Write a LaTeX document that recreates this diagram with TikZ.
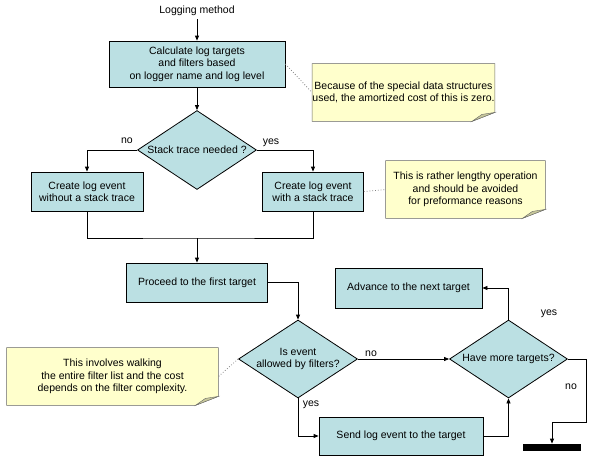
\documentclass[tikz,border=0pt]{standalone}
\usepackage{fontspec}
\setmainfont{Liberation Sans}
\usepackage{xcolor}
\usetikzlibrary{arrows.meta,positioning,shapes.geometric,backgrounds}
\definecolor{boxfill}{HTML}{BBE0E3}
\definecolor{notefill}{HTML}{FFFFCC}
\definecolor{foldfill}{HTML}{C8C89B}
\tikzset{>={Triangle[length=5pt,width=4pt]}}

\begin{document}
\begin{tikzpicture}[x=1pt, y=-1pt, line width=0.8pt,
  every node/.style={font=\fontsize{10.5}{12.3}\selectfont, align=center, inner sep=0pt},
  stepbox/.style={draw, fill=boxfill, rectangle},
  choice/.style={draw, fill=boxfill, diamond, aspect=1.5},
  memo/.style={rectangle},
  hint/.style={draw=gray, dotted}]
  \useasboundingbox (0,0) rectangle (600,464);

  % Start
  \node (lm) at (197,11) {Logging method};
  \node[stepbox, minimum width=176pt, minimum height=46pt] (calc) at (197,64)
    {Calculate log targets\\and filters based\\on logger name and log level};

  % Stack trace
  \node[choice, minimum width=119pt, minimum height=79pt] (stack) at (197,150) {Stack trace needed ?};
  \node[stepbox, minimum width=112pt, minimum height=39pt] (nostack) at (87,191.5)
    {Create log event\\without a stack trace};
  \node[stepbox, minimum width=101pt, minimum height=39pt] (withstack) at (313,191.5)
    {Create log event\\with a stack trace};
  \coordinate (m) at (197,238);

  % Targets loop
  \node[stepbox, minimum width=141pt, minimum height=39pt] (first) at (197,282.5) {Proceed to the first target};
  \node[choice, minimum width=119pt, minimum height=78pt] (allowed) at (298,359) {Is event\\allowed by filters?};
  \node[stepbox, minimum width=147pt, minimum height=40pt] (advance) at (408.5,288) {Advance to the next target};
  \node[choice, minimum width=118pt, minimum height=78pt] (more) at (508.5,359) {Have more targets?};
  \node[stepbox, minimum width=164pt, minimum height=38pt] (send) at (401,436) {Send log event to the target};
  \node[fill=black, minimum width=58pt, minimum height=7pt] (done) at (552,447.5) {};
  \coordinate (r) at (586,422);

  % Notes
  \node[memo, minimum width=181pt, minimum height=57pt] (note1) at (403.5,92.5)
    {Because of the special data structures\\used, the amortized cost of this is zero.};
  \node[memo, minimum width=159pt, minimum height=57pt] (note2) at (465.5,189.5)
    {This is rather lengthy operation\\and should be avoided\\for preformance reasons};
  \node[memo, minimum width=211pt, minimum height=57pt] (note3) at (112.5,376.5)
    {This involves walking\\the entire filter list and the cost\\depends on the filter complexity.};
  \begin{scope}[on background layer]
    \foreach \n in {note1,note2,note3} {
      \filldraw[fill=notefill, draw=gray!80!black]
        (\n.north west) -- (\n.north east) -- ([yshift=9pt]\n.south east)
        -- ([xshift=-23pt]\n.south east) -- (\n.south west) -- cycle;
      \filldraw[fill=foldfill, draw=gray!80!black]
        ([yshift=9pt]\n.south east) -- ([xshift=-23pt]\n.south east)
        -- ([xshift=-13pt,yshift=7pt]\n.south east) -- cycle;
    }
  \end{scope}

  % Edges
  \draw[->, shorten <=3pt] (lm) -- (calc);
  \draw[->] (calc) -- (stack);
  \draw[->] (stack.west) -| (nostack.north);
  \draw[->] (stack.east) -| (withstack.north);
  \draw (nostack.south) |- (m) -| (withstack.south);
  \draw[->] (m) -- (first.north);
  \draw[->] (first.east) -| (allowed.north);
  \draw[->] (allowed.east) -- (more.west);
  \draw[->] (allowed.south) |- (send.west);
  \draw[->] (send.east) -| (more.south);
  \draw[->] (more.north) |- (advance.east);
  \draw[->] (more.east) -| (r) -| (done.north);

  % Labels
  \node (l1) at (127,141) {no};
  \node (l2) at (271,143) {yes};
  \node (l3) at (371,354) {no};
  \node (l4) at (311,405) {yes};
  \node (l5) at (549,314) {yes};
  \node (l6) at (571,387) {no};

  % Note links
  \draw[hint] (calc.east) -- (note1.west);
  \draw[hint] (withstack.east) -- (note2.west);
  \draw[hint] (allowed.west) -- (note3.east);
\end{tikzpicture}
\end{document}
